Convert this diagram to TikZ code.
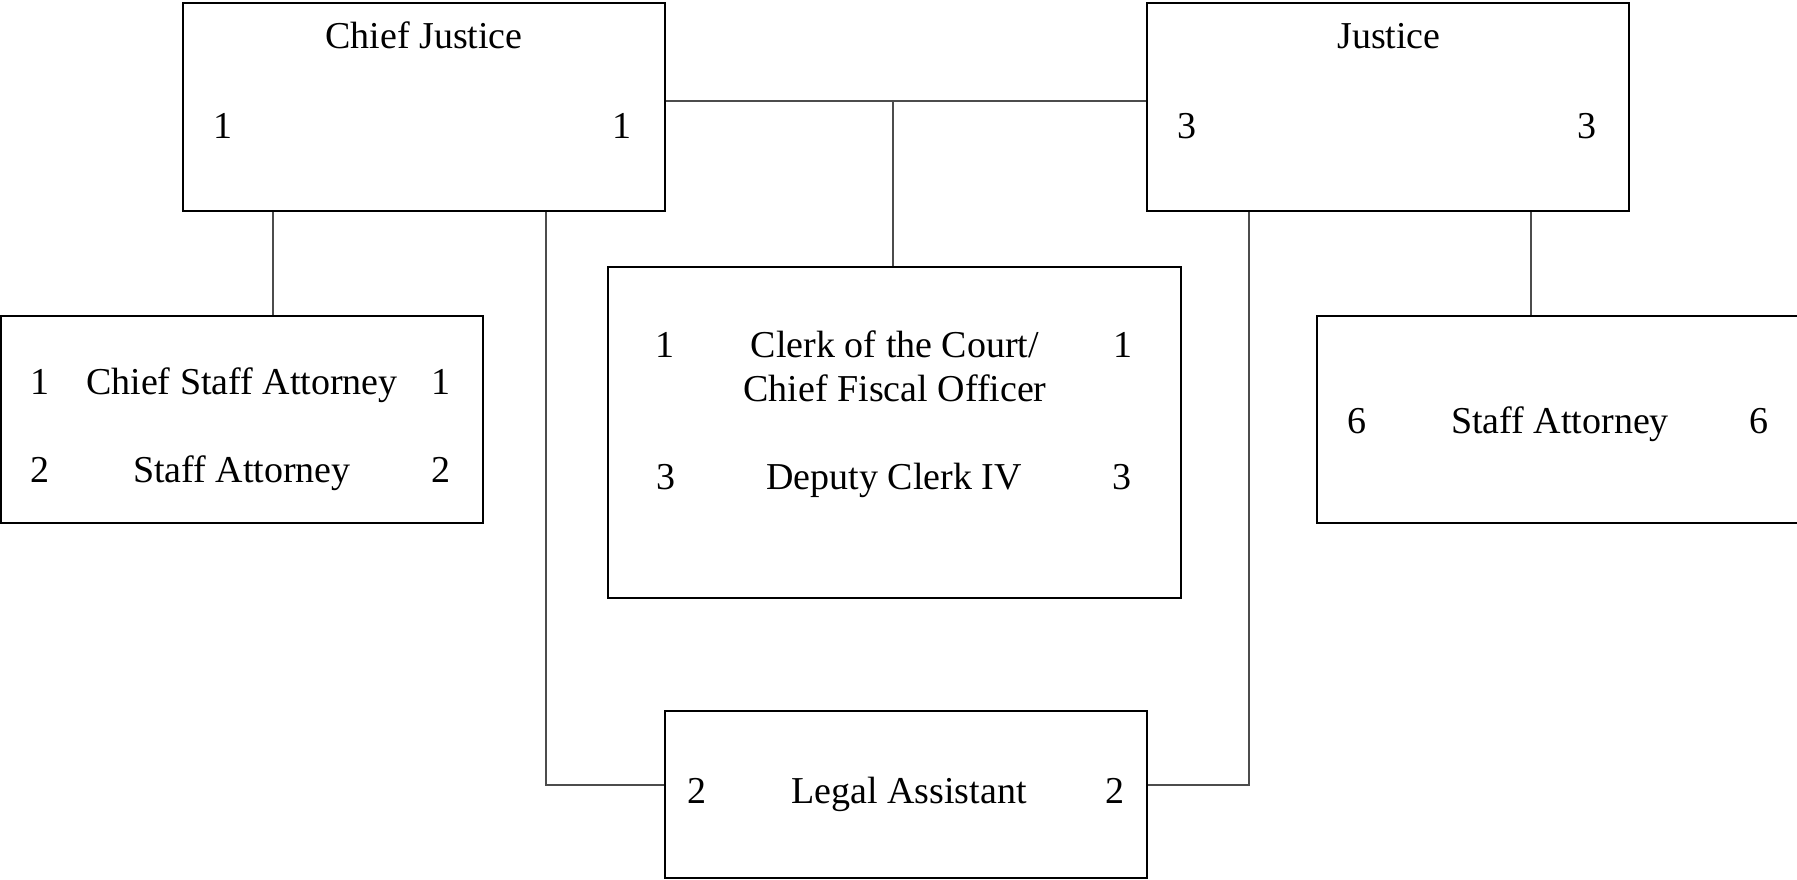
\documentclass[tikz,border=0pt]{standalone}
\usepackage{fontspec}
\setmainfont{Liberation Serif}
\begin{document}
\begin{tikzpicture}[x=1pt,y=-1pt,
  box/.style={draw=black,line width=2pt,fill=white,inner sep=0pt},
  lbl/.style={inner sep=0pt,anchor=center,text height=25pt,text depth=0pt,font=\fontsize{38}{41}\selectfont},
  conn/.style={draw=black!70,line width=1.4pt}]
\clip (0,0) rectangle (1797,880);
\fill[white] (0,0) rectangle (1797,880);
\coordinate (m) at (893,101);
\coordinate (cjl) at (273,260);
\coordinate (jl) at (1531,260);
\coordinate (a1) at (546,785);
\coordinate (a2) at (1249,785);
% boxes
\node[box,minimum width=482pt,minimum height=208pt] (cj) at (424,107) {};
\node[box,minimum width=482pt,minimum height=208pt] (j) at (1388,107) {};
\node[box,minimum width=482pt,minimum height=207pt] (lb) at (242,419.5) {};
\node[box,minimum width=573pt,minimum height=331pt] (cb) at (894.5,432.5) {};
\node[box,minimum width=483pt,minimum height=207pt] (rb) at (1558.5,419.5) {};
\node[box,minimum width=482pt,minimum height=167pt] (la) at (906,794.5) {};
% connector lines
\draw[conn] (cj.east |- m) -- (j.west |- m);
\draw[conn] (m) -- (m |- cb.north);
\draw[conn] (cj.south -| cjl) -- (cjl |- lb.north);
\draw[conn] (j.south -| jl) -- (jl |- rb.north);
\draw[conn] (cj.south -| a1) -- (a1) -- (a1 -| la.west);
\draw[conn] (j.south -| a2) -- (a2) -- (a2 -| la.east);
% texts
\node[lbl] (t1) at (424,36) {Chief Justice};
\node[lbl] (t2) at (223,126) {1};
\node[lbl] (t3) at (622,126) {1};
\node[lbl] (t4) at (1389,36) {Justice};
\node[lbl] (t5) at (1187,126) {3};
\node[lbl] (t6) at (1587,126) {3};
\node[lbl] (t7) at (40,382) {1};
\node[lbl] (t8) at (242,382) {Chief Staff Attorney};
\node[lbl] (t9) at (441,382) {1};
\node[lbl] (t10) at (40,470) {2};
\node[lbl] (t11) at (242,470) {Staff Attorney};
\node[lbl] (t12) at (441,470) {2};
\node[lbl] (t13) at (665,345) {1};
\node[lbl] (t14) at (895,345) {Clerk of the Court/};
\node[lbl] (t15) at (895,389) {Chief Fiscal Officer};
\node[lbl] (t16) at (1123,345) {1};
\node[lbl] (t17) at (666,477) {3};
\node[lbl] (t18) at (894,477) {Deputy Clerk IV};
\node[lbl] (t19) at (1122,477) {3};
\node[lbl] (t20) at (1357,421) {6};
\node[lbl] (t21) at (1560,421) {Staff Attorney};
\node[lbl] (t22) at (1759,421) {6};
\node[lbl] (t23) at (697,791) {2};
\node[lbl] (t24) at (909,791) {Legal Assistant};
\node[lbl] (t25) at (1115,791) {2};
\end{tikzpicture}
\end{document}
